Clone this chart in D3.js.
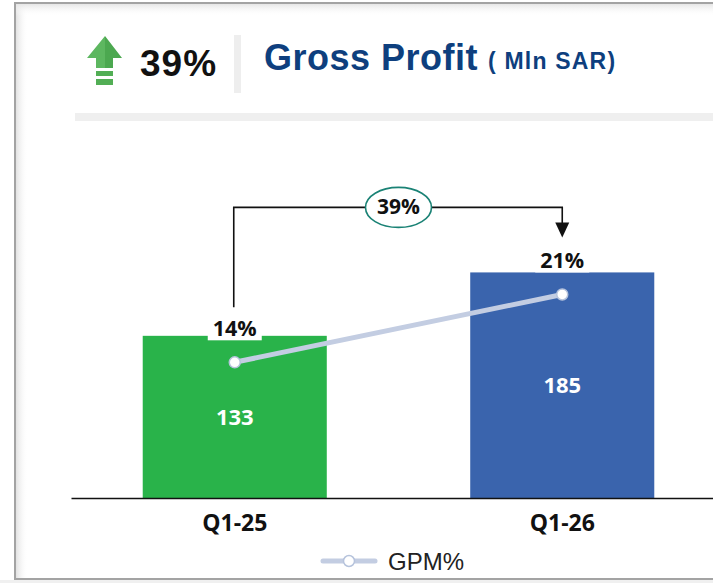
<!DOCTYPE html>
<html>
<head>
<meta charset="utf-8">
<script src="https://cdn.jsdelivr.net/npm/d3@7"></script>
<style>
  body { margin: 0; background: #fff; }
  svg { display: block; }
</style>
</head>
<body>
<div id="chart"></div>
<script>
const categories = ["Q1-25", "Q1-26"];
const grossProfit = [133, 185];
const gpmPct = [14, 21];
const growthLabel = "39%";
const barColors = ["#29B34A", "#3A64AD"];

const width = 713, height = 583;
const svg = d3.select("#chart").append("svg")
    .attr("width", width)
    .attr("height", height);

// frame with soft inner shadow
const defs = svg.append("defs");
const gl = defs.append("linearGradient").attr("id", "shL").attr("x1", 0).attr("x2", 1).attr("y1", 0).attr("y2", 0);
gl.append("stop").attr("offset", "0%").attr("stop-color", "#e2e2e2");
gl.append("stop").attr("offset", "100%").attr("stop-color", "#fff").attr("stop-opacity", 0);
const gt = defs.append("linearGradient").attr("id", "shT").attr("x1", 0).attr("x2", 0).attr("y1", 0).attr("y2", 1);
gt.append("stop").attr("offset", "0%").attr("stop-color", "#e6e6e6");
gt.append("stop").attr("offset", "100%").attr("stop-color", "#fff").attr("stop-opacity", 0);

svg.append("rect").attr("x", 0).attr("y", 580).attr("width", width).attr("height", 3).attr("fill", "#f0f0f0");
svg.append("rect").attr("x", 16).attr("y", 4).attr("width", 12).attr("height", 574).attr("fill", "url(#shL)");
svg.append("rect").attr("x", 16).attr("y", 4).attr("width", 700).attr("height", 12).attr("fill", "url(#shT)");
svg.append("rect")
    .attr("x", 15).attr("y", 3)
    .attr("width", 720).attr("height", 576)
    .attr("fill", "none")
    .attr("stroke", "#a3a3a3")
    .attr("stroke-width", 2);

// header
const arrow = svg.append("g");
arrow.append("path").attr("d", "M105,36 L87,58 L96,58 L96,68 L105,68 Z").attr("fill", "#5DB760");
arrow.append("path").attr("d", "M105,36 L122,58 L113,58 L113,68 L105,68 Z").attr("fill", "#4CA850");
arrow.append("rect").attr("x", 96).attr("y", 71).attr("width", 17).attr("height", 5).attr("fill", "#52AE55");
arrow.append("rect").attr("x", 96).attr("y", 79).attr("width", 17).attr("height", 6).attr("fill", "#52AE55");

svg.append("text")
    .attr("x", 140).attr("y", 76)
    .style("font", "bold 37px 'Liberation Sans', Arial, sans-serif")
    .style("letter-spacing", "1px")
    .attr("fill", "#111")
    .text(growthLabel);

svg.append("rect").attr("x", 234).attr("y", 35).attr("width", 7).attr("height", 58).attr("fill", "#eeeeee");

svg.append("text")
    .attr("x", 264).attr("y", 70)
    .style("font", "bold 36px 'Liberation Sans', Arial, sans-serif")
    .style("letter-spacing", "0.5px")
    .attr("fill", "#0E3F7E")
    .text("Gross Profit");

svg.append("text")
    .attr("x", 488).attr("y", 69)
    .style("font", "bold 23px 'Liberation Sans', Arial, sans-serif")
    .style("letter-spacing", "1.2px")
    .style("white-space", "pre")
    .attr("fill", "#0E3F7E")
    .text("( Mln SAR)");

svg.append("rect").attr("x", 75).attr("y", 113).attr("width", 640).attr("height", 8).attr("fill", "#efefef");

// scales
const x = d3.scaleBand()
    .domain(categories)
    .range([71, 726])
    .paddingInner(0.438)
    .paddingOuter(0.219);

const y = d3.scaleLinear().domain([0, 310]).range([498, 120]);
const y2 = d3.scaleLinear().domain([0, 39]).range([498, 120]);

const rows = categories.map((c, i) => ({cat: c, gp: grossProfit[i], gpm: gpmPct[i], color: barColors[i]}));

// bars
svg.selectAll(".bar")
    .data(rows)
    .enter().append("rect")
    .attr("class", "bar")
    .attr("x", d => x(d.cat))
    .attr("y", d => y(d.gp))
    .attr("width", x.bandwidth())
    .attr("height", d => y(0) - y(d.gp))
    .attr("fill", d => d.color);

// values inside bars
svg.selectAll(".val")
    .data(rows)
    .enter().append("text")
    .attr("class", "val")
    .attr("x", d => x(d.cat) + x.bandwidth() / 2)
    .attr("y", d => (y(d.gp) + y(0)) / 2 + 8)
    .attr("text-anchor", "middle")
    .style("font", "bold 22px 'Open Sans', sans-serif")
    .attr("fill", "#fff")
    .text(d => d.gp);

// axis
const xAxis = svg.append("g")
    .attr("transform", `translate(0,${y(0)})`)
    .call(d3.axisBottom(x).tickSize(0));
xAxis.select(".domain").attr("stroke", "#111").attr("stroke-width", 1.6);
xAxis.selectAll("text")
    .attr("y", 33).attr("dy", 0)
    .style("font", "bold 23px 'Open Sans', sans-serif")
    .attr("fill", "#111");

// bracket with growth
const cx = d => x(d.cat) + x.bandwidth() / 2;
const topY = y(grossProfit[1]) - 65;
const leftBottom = y2(gpmPct[0]) - 55;
const tipY = y(grossProfit[1]) - 35;
svg.append("path")
    .attr("d", `M${cx(rows[0]) - 1},${leftBottom} V${topY} H${cx(rows[1])} V${tipY - 14}`)
    .attr("fill", "none")
    .attr("stroke", "#111")
    .attr("stroke-width", 1.6);
svg.append("path")
    .attr("d", `M${cx(rows[1]) - 7},${tipY - 15} L${cx(rows[1]) + 7},${tipY - 15} L${cx(rows[1])},${tipY} Z`)
    .attr("fill", "#111");

const midX = (cx(rows[0]) + cx(rows[1])) / 2;
svg.append("ellipse")
    .attr("cx", midX).attr("cy", topY)
    .attr("rx", 33).attr("ry", 20)
    .attr("fill", "#fff")
    .attr("stroke", "#1A8275")
    .attr("stroke-width", 1.6);
svg.append("text")
    .attr("x", midX).attr("y", topY + 7)
    .attr("text-anchor", "middle")
    .style("font", "bold 21px 'Open Sans', sans-serif")
    .attr("fill", "#111")
    .text(growthLabel);

// GPM line
const line = d3.line().x(d => cx(d)).y(d => y2(d.gpm));
svg.append("path")
    .datum(rows)
    .attr("d", line)
    .attr("fill", "none")
    .attr("stroke", "#C3CDE2")
    .attr("stroke-width", 5);

svg.selectAll(".dot")
    .data(rows)
    .enter().append("circle")
    .attr("class", "dot")
    .attr("cx", d => cx(d))
    .attr("cy", d => y2(d.gpm))
    .attr("r", 5.5)
    .attr("fill", "#fff")
    .attr("stroke", "#B6C3DC")
    .attr("stroke-width", 1.5);

// GPM labels above the line points
const lab = svg.selectAll(".gpm")
    .data(rows)
    .enter().append("g")
    .attr("class", "gpm");
lab.append("rect")
    .attr("x", d => cx(d) - 27)
    .attr("y", d => y2(d.gpm) - 46)
    .attr("width", 54)
    .attr("height", 24)
    .attr("fill", "#fff");
lab.append("text")
    .attr("x", d => cx(d))
    .attr("y", d => y2(d.gpm) - 26)
    .attr("text-anchor", "middle")
    .style("font", "bold 21.5px 'Open Sans', sans-serif")
    .attr("fill", "#111")
    .text(d => d.gpm + "%");

// legend
const lg = svg.append("g").attr("transform", "translate(323,561)");
lg.append("line").attr("x1", 0).attr("x2", 52).attr("y1", 0).attr("y2", 0)
    .attr("stroke", "#C3CDE2").attr("stroke-width", 5).attr("stroke-linecap", "round");
lg.append("circle").attr("cx", 26).attr("cy", 0).attr("r", 5.5)
    .attr("fill", "#fff").attr("stroke", "#B6C3DC").attr("stroke-width", 1.5);
lg.append("text")
    .attr("x", 65).attr("y", 9)
    .style("font", "24px 'Liberation Sans', Arial, sans-serif")
    .attr("fill", "#222")
    .text("GPM%");
</script>
</body>
</html>
